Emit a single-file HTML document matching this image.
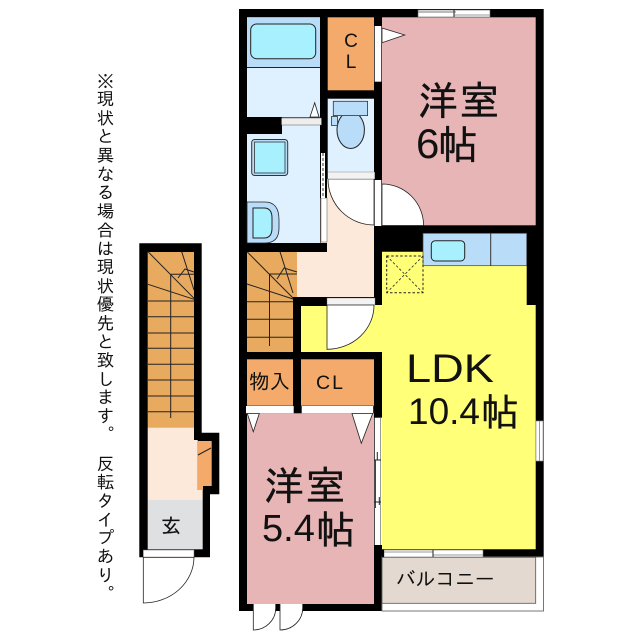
<!DOCTYPE html>
<html><head><meta charset="utf-8"><style>
html,body{margin:0;padding:0;background:#fff;width:640px;height:640px;overflow:hidden}
svg{position:absolute;left:0;top:0}
text{font-family:"IPAGothic","Noto Sans CJK JP",sans-serif;fill:#111}
.l{font-family:"Liberation Sans",sans-serif}
.b{stroke:#111;stroke-width:.35}
.v{position:absolute;left:95px;top:71px;writing-mode:vertical-rl;font:17.5px/20px "IPAGothic","Noto Sans CJK JP",sans-serif;letter-spacing:1.15px;color:#111;white-space:pre;height:560px}
</style></head><body>
<svg width="640" height="640" viewBox="0 0 640 640">
<!-- main walls -->
<rect x="239" y="9" width="304.7" height="602" fill="#000"/>
<!-- balcony surround -->
<rect x="382" y="557" width="161.5" height="54" fill="#fff" stroke="#777" stroke-width="1"/>
<rect x="382" y="557.3" width="153.7" height="46" fill="#e3d9d0" stroke="#555" stroke-width=".8"/>
<!-- bath -->
<rect x="247" y="17.3" width="73" height="100" fill="#dff0ff"/>
<rect x="247" y="17.3" width="73" height="50" fill="#b9dcf9"/>
<line x1="247" y1="67.5" x2="320" y2="67.5" stroke="#222"/>
<rect x="250.7" y="24" width="65" height="34.7" rx="6" fill="#a9f0ff" stroke="#222"/>
<path d="M310 117L314.7 102.7L319 117Z" fill="#fff" stroke="#222" stroke-width=".8"/>
<!-- wash -->
<rect x="247" y="125" width="73" height="118" fill="#dff0ff"/>
<rect x="247" y="117" width="35" height="17" fill="#000"/>
<rect x="281.5" y="118" width="40" height="7" fill="#eee" stroke="#555" stroke-width=".5"/>
<rect x="251.7" y="139.5" width="36" height="36" rx="3" fill="#b9dcf9" stroke="#333"/>
<rect x="254.5" y="142" width="30.5" height="31" fill="#a9f0ff" stroke="#333" stroke-width=".8"/>
<path d="M247 202H265Q279 202 279 220V228Q279 243 265 243H247Z" fill="#b9dcf9" stroke="#222" stroke-width=".8"/>
<path d="M253 208H264Q272 208 272 218V228Q272 238 264 238H253Z" fill="#a9f0ff" stroke="#222"/>
<!-- CL top -->
<rect x="327.7" y="17.3" width="46.3" height="73" fill="#f3aa6a"/>
<text x="351" y="47" text-anchor="middle" font-size="19" class="l">C</text>
<text x="351" y="68" text-anchor="middle" font-size="19" class="l">L</text>
<!-- WC -->
<rect x="327.7" y="98.7" width="46.3" height="73.3" fill="#dff0ff"/>
<ellipse cx="350.7" cy="130" rx="13.7" ry="18.5" fill="#b9dcf9" stroke="#222"/>
<rect x="333.3" y="101.3" width="34.3" height="14.3" fill="#b9dcf9" stroke="#333" stroke-width=".8"/>
<rect x="331.5" y="116.5" width="6" height="9" fill="#b9dcf9" stroke="#333" stroke-width=".8"/>
<!-- hall -->
<rect x="297" y="252" width="77" height="45" fill="#fde9da"/>
<rect x="327" y="179" width="47" height="73" fill="#fde9da"/>
<rect x="320.5" y="198" width="7" height="45" fill="#fde9da"/>
<rect x="321" y="198" width="6" height="44" fill="#fff" stroke="#555" stroke-width=".5"/>
<rect x="321" y="153" width="4" height="45" fill="#fff"/>
<line x1="323" y1="153" x2="323" y2="198" stroke="#333" stroke-dasharray="3 2"/>
<path d="M328 179H374V225A46 46 0 0 1 328 179Z" fill="#fff" stroke="#222" stroke-width=".8"/>
<rect x="327.7" y="172" width="47" height="7" fill="#f2f2f2" stroke="#777" stroke-width=".4"/>
<!-- room 6 -->
<rect x="382" y="17.3" width="153.7" height="208" fill="#e7b5b5"/>
<rect x="374.7" y="26" width="6.6" height="55.7" fill="#fff"/>
<path d="M382 28L404.7 35L382 42.7Z" fill="#fff" stroke="#222" stroke-width=".8"/>
<rect x="374.7" y="180" width="6.6" height="46" fill="#fff"/>
<path d="M382 225.5V184A41.6 41.6 0 0 1 423.6 225.5Z" fill="#fff" stroke="#222" stroke-width=".8"/>
<rect x="418" y="10" width="72" height="7" fill="#fff" stroke="#666" stroke-width=".6"/>
<line x1="418" y1="12" x2="456" y2="12" stroke="#777"/><line x1="454" y1="15" x2="490" y2="15" stroke="#999"/>
<line x1="454" y1="10" x2="454" y2="17" stroke="#222"/>
<!-- LDK -->
<path d="M382 251.7H423V265.7H526.7V305H535.7V549.3H382V352H301V306H327V305H382Z" fill="#ffff78"/>
<rect x="423" y="233.3" width="103.7" height="32.4" fill="#b9dcf9" stroke="#444" stroke-width=".7"/>
<line x1="490.7" y1="233.3" x2="490.7" y2="265.7" stroke="#333"/>
<rect x="431.3" y="240.7" width="33.4" height="20.3" rx="4" fill="#a9f0ff" stroke="#222"/>
<rect x="386.7" y="256" width="36.3" height="36.7" fill="none" stroke="#222" stroke-dasharray="2.5 2"/>
<path d="M386.7 256L423 292.7M423 256L386.7 292.7" stroke="#222" stroke-width=".8" stroke-dasharray="2.5 2"/>
<rect x="374" y="252" width="8" height="53" fill="#000"/>
<!-- door to LDK -->
<rect x="293" y="298" width="34" height="8" fill="#000"/>
<rect x="327" y="298" width="48" height="7" fill="#f2f2f2" stroke="#777" stroke-width=".4"/>
<path d="M327 305H374A47 44 0 0 1 327 349.3Z" fill="#fff" stroke="#222" stroke-width=".8"/>
<!-- stairs main -->
<rect x="247" y="252" width="46" height="100" fill="#e8aa5f"/>
<rect x="293" y="252" width="4" height="45" fill="#e8aa5f"/>
<g stroke="#222" stroke-width="1" fill="none">
<path d="M247 251.7L293 298M280 251.7L293 293M247 284L293 299M269.5 274V346M269.5 274H297M277 279L284 268L297 272"/>
<path d="M247 301.7H293M247 319.3H293M247 337.3H293"/>
</g>
<!-- storages -->
<rect x="247" y="359.3" width="46" height="46.4" fill="#f3aa6a"/>
<rect x="301" y="359.3" width="73" height="46.4" fill="#f3aa6a"/>
<text x="249" y="389" font-size="20.5">物入</text>
<text x="316" y="389" font-size="19.5" letter-spacing="2" class="l">CL</text>
<!-- room 5.4 -->
<rect x="247" y="413.3" width="127" height="190.7" fill="#e7b5b5"/>
<rect x="246" y="406" width="47.7" height="7.3" fill="#fff"/>
<rect x="301.7" y="406" width="71.5" height="7.3" fill="#fff"/>
<path d="M247.3 413.5H259.3L253.3 431.7Z" fill="#fff" stroke="#222" stroke-width=".8"/>
<path d="M352 413.5H372.7L361.3 443.3Z" fill="#fff" stroke="#222" stroke-width=".8"/>
<rect x="374.7" y="417.7" width="7.3" height="127.3" fill="#fff"/>
<line x1="375.5" y1="460" x2="375.5" y2="508" stroke="#444"/><line x1="380.5" y1="418" x2="380.5" y2="545" stroke="#999"/>
<path d="M374 460H381M374 502H381M377.3 452V460M379.3 497V505" stroke="#222"/>
<rect x="384" y="550" width="99" height="7" fill="#fff" stroke="#777" stroke-width=".6"/>
<line x1="384" y1="552" x2="433" y2="552" stroke="#999"/><line x1="433" y1="555" x2="483" y2="555" stroke="#999"/>
<line x1="433" y1="550" x2="433" y2="557" stroke="#222"/>
<rect x="536" y="421" width="7" height="40" fill="#fff" stroke="#888" stroke-width=".6"/>
<line x1="539.5" y1="421" x2="539.5" y2="461" stroke="#999"/>
<rect x="382" y="549.5" width="2" height="7.5" fill="#000"/>
<text x="396" y="586" font-size="19.7">バルコニー</text>
<!-- bottom doors -->
<rect x="253.3" y="604" width="22.4" height="7" fill="#fff"/>
<rect x="280" y="604" width="22.7" height="7" fill="#fff"/>
<path d="M253.3 604V630A22.4 22 0 0 0 275.7 608V604" fill="#fff" stroke="#222" stroke-width=".8"/>
<path d="M280 604V630A22.7 22 0 0 0 302.7 608V604" fill="#fff" stroke="#222" stroke-width=".8"/>
<!-- labels -->
<text x="418" y="115" font-size="40" letter-spacing="1.5" class="b">洋室</text>
<text x="416" y="158" font-size="42" class="l">6</text>
<text x="438" y="159" font-size="40" class="b">帖</text>
<text x="264" y="500" font-size="40" letter-spacing="1.5" class="b">洋室</text>
<text x="262" y="541" font-size="38" class="l">5.4</text>
<text x="316" y="544" font-size="39" class="b">帖</text>
<text transform="translate(406 382) scale(1.13 1)" font-size="40" class="l">LDK</text>
<text x="408" y="424" font-size="37" class="l">10.4</text>
<text x="481" y="426" font-size="38" class="b">帖</text>
<!-- left unit -->
<path d="M139.3 243.3H201.7V432.7H219.3V494.3H210V557.3H139.3Z" fill="#000"/>
<rect x="147.7" y="252" width="46.3" height="176" fill="#e8aa5f"/>
<g stroke="#222" stroke-width="1" fill="none">
<path d="M148 251.7L194 298.3M181.7 251.7L194 290M148 284.3L194 299.3M170.7 274.3V418M170.7 274.3H194M178 278L185 269L194 272"/>
<path d="M148 301H194M148 316.7H194M148 333H194M148 348.3H194M148 364.3H194M148 380H194M148 396H194M148 411.7H194"/>
</g>
<path d="M147.7 427.7H194V440H197.7V490H202.7V500H147.7Z" fill="#fde9da"/>
<path d="M197.7 441H211.7V486H203V490H197.7Z" fill="#f3aa6a"/>
<line x1="198" y1="455" x2="211" y2="448" stroke="#222"/>
<rect x="147.7" y="500" width="55" height="49.3" fill="#dfe0e2"/>
<text x="171" y="533" text-anchor="middle" font-size="20" class="b" style="stroke-width:.2">玄</text>
<rect x="143.3" y="550" width="50.7" height="7.3" fill="#fff" stroke="#666" stroke-width=".5"/>
<path d="M143.3 557.3V603A50.7 46 0 0 0 194 557.3Z" fill="#fff" stroke="#222" stroke-width=".8"/>
</svg>
<div class="v">※現状と異なる場合は現状優先と致します。 反転タイプあり。</div>
</body></html>
